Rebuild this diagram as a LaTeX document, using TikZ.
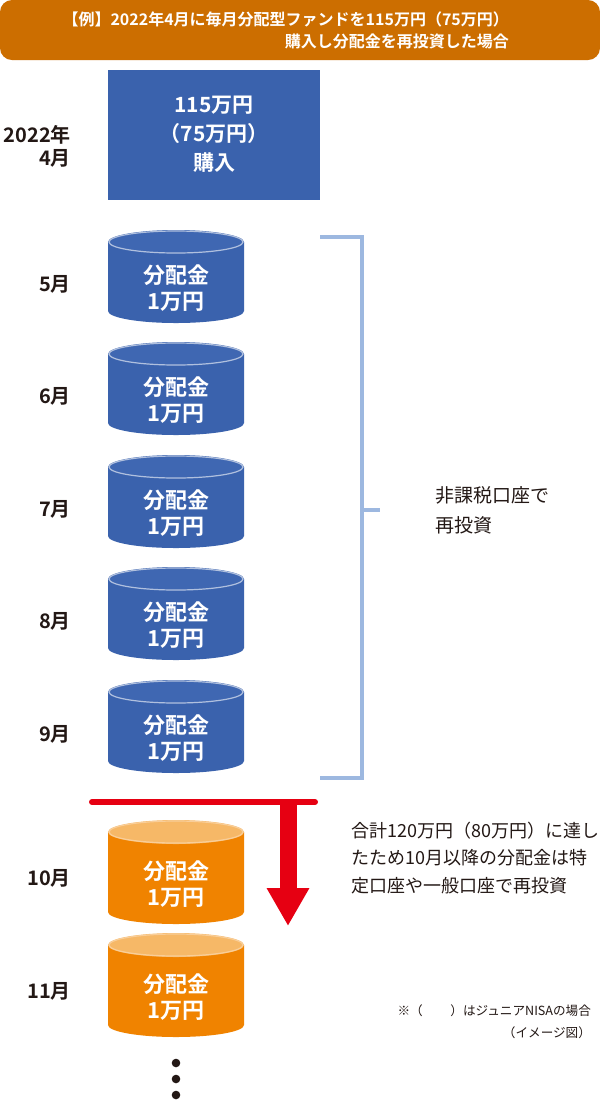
\documentclass[tikz,border=0pt]{standalone}
\usepackage{fontspec}
\setmainfont{Noto Sans CJK JP}
\newfontfamily\jpb{Noto Sans CJK JP Bold}
\usetikzlibrary{arrows.meta}
\definecolor{banner}{HTML}{CC6E00}
\definecolor{bluebox}{HTML}{3A62AD}
\definecolor{bluetop}{HTML}{3F67B2}
\definecolor{orbody}{HTML}{F08300}
\definecolor{ortop}{HTML}{F6B867}
\definecolor{brk}{HTML}{9DB8E0}
\definecolor{redl}{HTML}{E60012}
\definecolor{txt}{HTML}{231815}
\tikzset{
 month/.style={anchor=east,font=\jpb\fontsize{10}{11.5}\selectfont,text=txt,align=right},
 cyltext/.style={font=\jpb\fontsize{11}{13}\selectfont,text=white,align=center},
 body/.style={font=\fontsize{9}{13.7}\selectfont,text=txt,align=left,anchor=north west},
}
\newcommand{\cyl}[4]{% height, top y, colours body/top
 \fill[#3] (108,#2+12) -- (108,#2+#1-12) arc[start angle=180,end angle=0,x radius=68,y radius=12] -- (244,#2+12) -- cycle;
 \fill[#4] (176,#2+12) ellipse[x radius=68,y radius=12];
 \draw[white!60!#3,line width=0.6pt] (176,#2+12) ellipse[x radius=67,y radius=11];
}
\begin{document}
\begin{tikzpicture}[x=0.5pt,y=-0.5pt]
\useasboundingbox (0,0) rectangle (600,1100);
\fill[white] (0,0) rectangle (600,1100);
\fill[banner,rounded corners=6] (0,0) rectangle (600,60);
\node[font=\jpb\fontsize{8}{11}\selectfont,text=white,align=right,anchor=east] (title) at (516,30) {【例】2022年4月に毎月分配型ファンドを115万円（75万円）\\購入し分配金を再投資した場合};
\fill[bluebox] (108,70) rectangle (320,200);
\node[font=\jpb\fontsize{10.5}{14.5}\selectfont,text=white,align=center] (buy) at (214,134) {115万円\\（75万円）\\購入};
\node[month] (m4) at (78,146) {2022年\\4月};
\foreach \t/\m in {230/5,342/6,455/7,567/8,680/9}{
 \cyl{93}{\t}{bluebox}{bluetop}
 \node[cyltext] (c\m) at (176,\t+58) {分配金\\1万円};
 \node[month] (m\m) at (78,\t+54) {{\m}月};
}
\foreach \t/\m in {820/10,933/11}{
 \cyl{104}{\t}{orbody}{ortop}
 \node[cyltext] (c\m) at (176,\t+64) {分配金\\1万円};
 \node[month] (m\m) at (78,\t+58) {{\m}月};
}
\draw[brk,line width=2pt] (320,237) -- (362,237) -- (362,778) -- (320,778);
\coordinate (bm) at (362,510);
\coordinate (bt) at (380,510);
\draw[brk,line width=2pt] (bm) -- (bt);
\node[body,font=\fontsize{9.5}{15}\selectfont,anchor=west] (tax) at (428,510) {非課税口座で\\再投資};
\draw[redl,line width=3pt,line cap=round] (92,802) -- (315,802);
\coordinate (as) at (288,802);
\coordinate (ae) at (288,926);
\draw[redl,line width=8.5pt,-{Triangle[width=20pt,length=19pt]}] (as) -- (ae);
\node[body] (note) at (344,815) {合計120万円（80万円）に達し\\たため10月以降の分配金は特\\定口座や一般口座で再投資};
\node[font=\fontsize{6.3}{11}\selectfont,text=txt,align=right,anchor=north east] (nisa) at (598,998) {※（\hspace{2.2em}）はジュニアNISAの場合\\（イメージ図）};
\foreach \y in {1063,1079,1095} \fill[txt] (176,\y) circle[radius=4.3];
\end{tikzpicture}
\end{document}
